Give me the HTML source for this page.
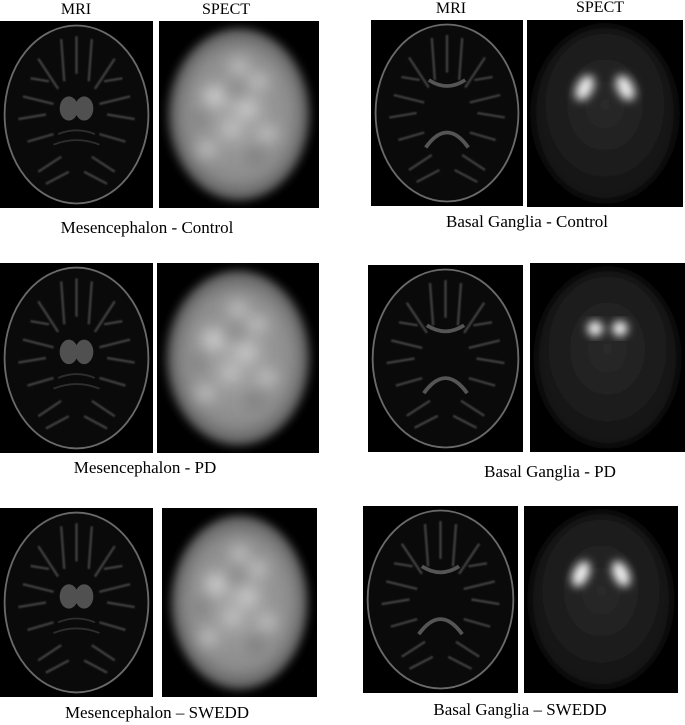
<!DOCTYPE html>
<html><head><meta charset="utf-8">
<style>
body{margin:0;width:685px;height:725px;background:#fff;position:relative;overflow:hidden;font-family:"Liberation Serif",serif;color:#000}
.p{position:absolute;background:#000;overflow:hidden}
.p svg{width:100%;height:100%;display:block}
.t{position:absolute;font-size:17px;white-space:nowrap;transform:translateX(-50%);line-height:1}
.h{position:absolute;font-size:16px;transform:translateX(-50%);line-height:1}
</style></head><body>
<svg width="0" height="0" style="position:absolute">
<defs>
<filter id="b6" x="-50%" y="-50%" width="200%" height="200%"><feGaussianBlur stdDeviation="5"/></filter>
<filter id="b3" x="-30%" y="-30%" width="160%" height="160%"><feGaussianBlur stdDeviation="3"/></filter>
<filter id="b1"><feGaussianBlur stdDeviation="0.5"/></filter>
<radialGradient id="gm" cx="50%" cy="50%" r="50%"><stop offset="0" stop-color="#a8a8a8"/><stop offset="0.75" stop-color="#8c8c8c"/><stop offset="1" stop-color="#5a5a5a"/></radialGradient>
<radialGradient id="gb" cx="50%" cy="45%" r="50%"><stop offset="0" stop-color="#2a2a2a"/><stop offset="1" stop-color="#161616"/></radialGradient>
</defs></svg>

<div class="h" style="left:76px;top:2px">MRI</div>
<div class="h" style="left:226px;top:2px">SPECT</div>
<div class="h" style="left:451px;top:1px">MRI</div>
<div class="h" style="left:600px;top:0px">SPECT</div>

<div id="root"></div>

<div class="t" style="left:147px;top:219px">Mesencephalon - Control</div>
<div class="t" style="left:527px;top:213px">Basal Ganglia - Control</div>
<div class="t" style="left:145px;top:459px">Mesencephalon - PD</div>
<div class="t" style="left:550px;top:463px">Basal Ganglia - PD</div>
<div class="t" style="left:157px;top:704px">Mesencephalon – SWEDD</div>
<div class="t" style="left:520px;top:701px">Basal Ganglia – SWEDD</div>

<script>
const panels=[
 ['mri-mesencephalon-control','mriM',0,21,153,187],
 ['spect-mesencephalon-control','spM',159,21,160,187],
 ['mri-basal-ganglia-control','mriB',371,20,152,186],
 ['spect-basal-ganglia-control','spB',527,20,156,187],
 ['mri-mesencephalon-pd','mriM',0,263,153,190],
 ['spect-mesencephalon-pd','spM',157,263,162,190],
 ['mri-basal-ganglia-pd','mriB',368,265,155,187],
 ['spect-basal-ganglia-pd','spBpd',530,263,155,189],
 ['mri-mesencephalon-swedd','mriM',0,508,153,189],
 ['spect-mesencephalon-swedd','spM',162,508,155,189],
 ['mri-basal-ganglia-swedd','mriB',363,506,155,187],
 ['spect-basal-ganglia-swedd','spB',524,506,154,187]
];
const mriCommon='<ellipse cx="50" cy="62" rx="47" ry="59" fill="#0a0a0a" stroke="#6a6a6a" stroke-width="1.2"/>'+
 '<g fill="none" stroke="#3e3e3e" stroke-width="1.6" filter="url(#b1)">'+
 '<path d="M40 12 L42 40 M60 12 L58 40 M25 25 L38 45 M75 25 L62 45 M15 50 L35 55 M85 50 L65 55 M18 80 L35 75 M82 80 L65 75 M25 100 L40 90 M75 100 L60 90 M50 10 L50 35 M12 65 L30 62 M88 65 L70 62 M30 108 L45 100 M70 108 L55 100 M20 38 L32 40 M80 38 L68 40"/></g>';
const kinds={
 mriM: mriCommon+'<ellipse cx="45" cy="58" rx="6" ry="8" fill="#505050"/><ellipse cx="55" cy="58" rx="6" ry="8" fill="#505050"/><path d="M38 75 Q50 70 62 75 M35 82 Q50 76 65 82" stroke="#2e2e2e" stroke-width="1.2" fill="none"/>',
 mriB: mriCommon+'<path d="M38 40 Q50 48 62 40 M36 85 Q50 65 64 85" stroke="#555" stroke-width="2.5" fill="none"/>',
 spM:'<ellipse cx="50" cy="62" rx="44" ry="57" fill="url(#gm)" filter="url(#b3)"/><g filter="url(#b6)" fill="#d0d0d0"><circle cx="35" cy="50" r="7"/><circle cx="55" cy="58" r="6"/><circle cx="62" cy="40" r="5"/><circle cx="45" cy="72" r="5"/><circle cx="30" cy="85" r="5"/><circle cx="68" cy="75" r="5"/><circle cx="50" cy="30" r="5"/></g><g filter="url(#b6)" fill="#777"><circle cx="48" cy="45" r="4"/><circle cx="60" cy="90" r="5"/><circle cx="25" cy="65" r="4"/></g>',
 spB:'<ellipse cx="50" cy="62" rx="46" ry="58" fill="url(#gb)" filter="url(#b3)"/><g filter="url(#b3)" fill="#f0f0f0"><ellipse cx="37" cy="45" rx="5" ry="9" transform="rotate(25 37 45)"/><ellipse cx="63" cy="45" rx="5" ry="9" transform="rotate(-25 63 45)"/></g>',
 spBpd:'<ellipse cx="50" cy="62" rx="46" ry="58" fill="url(#gb)" filter="url(#b3)"/><g filter="url(#b3)" fill="#f0f0f0"><circle cx="42" cy="43" r="5"/><circle cx="58" cy="43" r="5"/></g>'
};
const root=document.getElementById('root');
panels.forEach(p=>{
 const d=document.createElement('div');
 d.className='p';
 d.style.cssText=`left:${p[2]}px;top:${p[3]}px;width:${p[4]}px;height:${p[5]}px`;
 
 
 d.innerHTML='<svg viewBox="0 0 100 124" preserveAspectRatio="none">'+kinds[p[1]]+'</svg>';
 root.appendChild(d);
});
</script>
</body></html>
